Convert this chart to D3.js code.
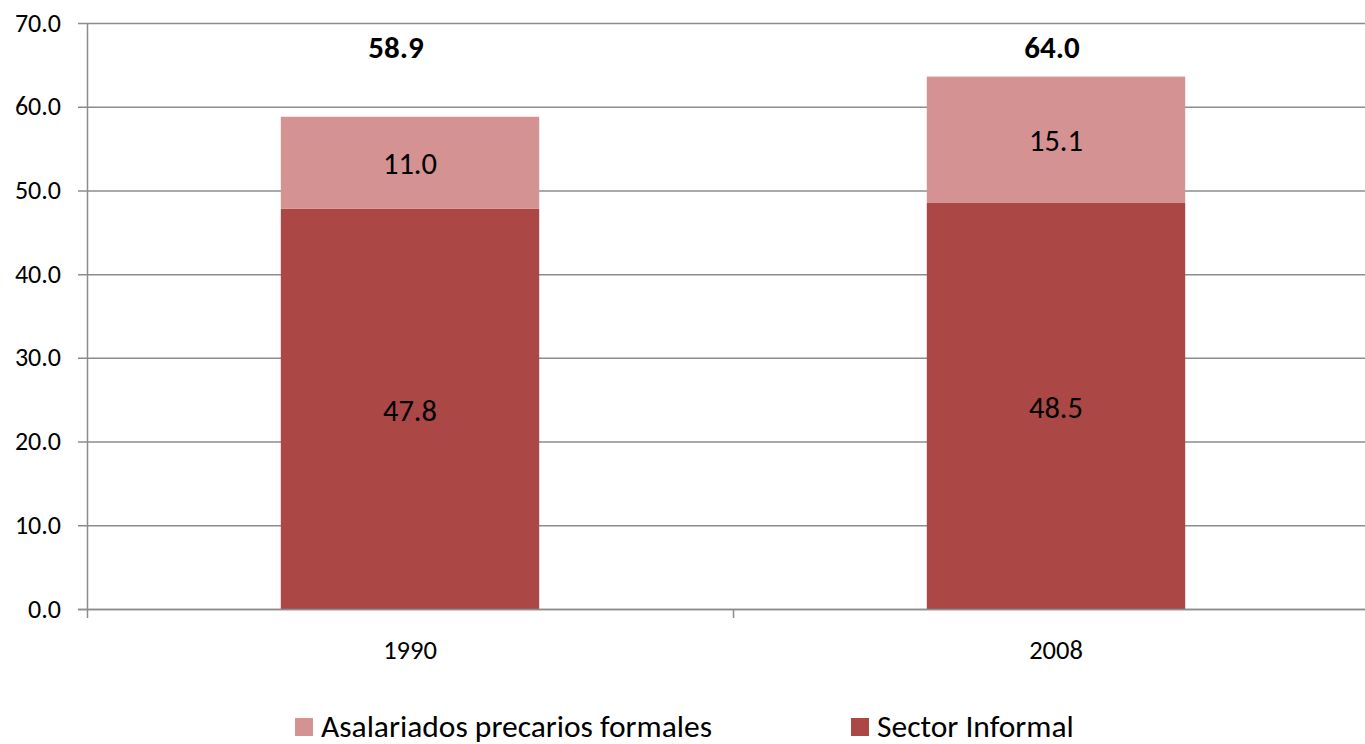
<!DOCTYPE html>
<html><head><meta charset="utf-8">
<script src="https://cdn.jsdelivr.net/npm/d3@7"></script>
<style>body{margin:0;background:#fff;}svg{display:block;}</style>
</head><body>
<svg id="c" width="1365" height="744"></svg>
<script>
const categories = ["1990", "2008"];
const sectorInformal = [47.8, 48.5];
const asalariados = [11.0, 15.1];
const totals = [58.9, 64.0];
const yTicks = [0, 10, 20, 30, 40, 50, 60, 70];
const seriesNames = ["Asalariados precarios formales", "Sector Informal"];
const colors = {light: "#D49392", dark: "#AB4846"};
const font = "Carlito, Calibri, Lato, sans-serif";

(function(){
const svg = d3.select("#c");
const pLeft = 87, pRight = 1379, pTop = 23, pBottom = 609;
const x = d3.scaleBand().domain(categories).range([pLeft, pRight]).paddingInner(0).paddingOuter(0);
const y = d3.scaleLinear().domain([0, 70]).range([pBottom, pTop]);
const bw = x.bandwidth() * 0.4;
const totalLabelShift = [-14, -4]; // manual placement of total text boxes

// gridlines
svg.append("g").selectAll("line").data(yTicks).join("line")
  .attr("x1", pLeft - 9).attr("x2", 1365)
  .attr("y1", d => y(d) + 0.5).attr("y2", d => y(d) + 0.5)
  .attr("stroke", "#8c8c8c").attr("stroke-width", 1.5);

// y labels
svg.append("g").selectAll("text").data(yTicks).join("text")
  .attr("x", 61).attr("y", d => y(d) + 8.5)
  .attr("text-anchor", "end").attr("font-family", font).attr("font-size", 26)
  .attr("fill", "#000").text(d => d.toFixed(1));

// bars
const cx = d => x(d) + x.bandwidth() / 2;
svg.append("g").selectAll("rect").data(categories).join("rect")
  .attr("x", d => cx(d) - bw / 2).attr("width", bw)
  .attr("y", (d, i) => y(sectorInformal[i])).attr("height", (d, i) => y(0) - y(sectorInformal[i]))
  .attr("fill", colors.dark);
svg.append("g").selectAll("rect").data(categories).join("rect")
  .attr("x", d => cx(d) - bw / 2).attr("width", bw)
  .attr("y", (d, i) => y(sectorInformal[i] + asalariados[i]))
  .attr("height", (d, i) => y(sectorInformal[i]) - y(sectorInformal[i] + asalariados[i]))
  .attr("fill", colors.light);

// axes lines
svg.append("line").attr("x1", pLeft + 0.5).attr("x2", pLeft + 0.5).attr("y1", pTop).attr("y2", pBottom + 9)
  .attr("stroke", "#8c8c8c").attr("stroke-width", 1.5);
svg.append("line").attr("x1", pLeft - 9).attr("x2", 1365).attr("y1", pBottom + 0.5).attr("y2", pBottom + 0.5)
  .attr("stroke", "#8c8c8c").attr("stroke-width", 1.5);
svg.append("g").selectAll("line").data(categories).join("line")
  .attr("x1", d => x(d) + x.bandwidth() + 0.5).attr("x2", d => x(d) + x.bandwidth() + 0.5)
  .attr("y1", pBottom).attr("y2", pBottom + 9)
  .attr("stroke", "#8c8c8c").attr("stroke-width", 1.5);

// category labels
svg.append("g").selectAll("text").data(categories).join("text")
  .attr("x", cx).attr("y", 659).attr("text-anchor", "middle")
  .attr("font-family", font).attr("font-size", 26.5).text(d => d);

// data labels
svg.append("g").selectAll("text").data(categories).join("text")
  .attr("x", cx).attr("y", (d, i) => y(sectorInformal[i] / 2) + 12)
  .attr("text-anchor", "middle").attr("font-family", font).attr("font-size", 30.5)
  .text((d, i) => sectorInformal[i].toFixed(1));
svg.append("g").selectAll("text").data(categories).join("text")
  .attr("x", cx).attr("y", (d, i) => y(sectorInformal[i] + asalariados[i] / 2) + 11.5)
  .attr("text-anchor", "middle").attr("font-family", font).attr("font-size", 30.5)
  .text((d, i) => asalariados[i].toFixed(1));
svg.append("g").selectAll("text").data(categories).join("text")
  .attr("x", (d, i) => cx(d) + totalLabelShift[i]).attr("y", 58)
  .attr("text-anchor", "middle").attr("font-family", font).attr("font-size", 31).attr("font-weight", "bold")
  .text((d, i) => totals[i].toFixed(1));

// legend
const legX = [295, 851];
const legColors = [colors.light, colors.dark];
const lg = svg.append("g").selectAll("g").data(seriesNames).join("g");
lg.append("rect").attr("x", (d, i) => legX[i]).attr("y", 718).attr("width", 18).attr("height", 18)
  .attr("fill", (d, i) => legColors[i]);
lg.append("text").attr("x", (d, i) => legX[i] + 26).attr("y", 737)
  .attr("font-family", font).attr("font-size", 31.5).text(d => d);
})();
</script>
</body></html>
